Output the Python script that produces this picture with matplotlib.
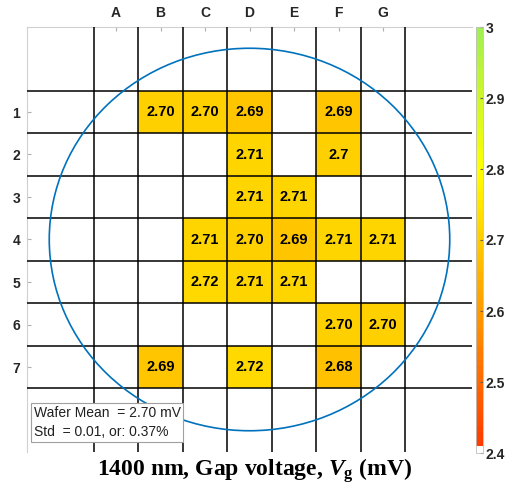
import numpy as np
import matplotlib.pyplot as plt
from matplotlib.colors import LinearSegmentedColormap, ListedColormap, Normalize
from matplotlib.patches import Circle

# die columns / rows and measured gap voltage (mV)
col_labels = ['A', 'B', 'C', 'D', 'E', 'F', 'G']
row_labels = ['1', '2', '3', '4', '5', '6', '7']
die_row = [1, 1, 1, 1, 2, 2, 3, 3, 4, 4, 4, 4, 4, 5, 5, 5, 6, 6, 7, 7, 7]
die_col = ['B', 'C', 'D', 'F', 'D', 'F', 'D', 'E', 'C', 'D', 'E', 'F', 'G',
           'C', 'D', 'E', 'F', 'G', 'B', 'D', 'F']
vg = [2.70, 2.70, 2.69, 2.69, 2.71, 2.70, 2.71, 2.71, 2.71, 2.70, 2.69, 2.71, 2.71,
      2.72, 2.71, 2.71, 2.70, 2.70, 2.69, 2.72, 2.68]
vg_text = ['2.70', '2.70', '2.69', '2.69', '2.71', '2.7', '2.71', '2.71', '2.71', '2.70',
           '2.69', '2.71', '2.71', '2.72', '2.71', '2.71', '2.70', '2.70', '2.69', '2.72', '2.68']
cbar_ticks = [2.4, 2.5, 2.6, 2.7, 2.8, 2.9, 3.0]
cbar_labels = ['2.4', '2.5', '2.6', '2.7', '2.8', '2.9', '3']
wafer_mean = 2.70
wafer_std = 0.01
wafer_pct = 0.37

plt.rcParams['font.family'] = ['Liberation Sans', 'DejaVu Sans']
plt.rcParams['mathtext.fontset'] = 'custom'
plt.rcParams['mathtext.it'] = 'Liberation Serif:italic:bold'
plt.rcParams['mathtext.bf'] = 'Liberation Serif:bold'
plt.rcParams['mathtext.rm'] = 'Liberation Serif:bold'

# red -> yellow -> green map, lowest level white
base = LinearSegmentedColormap.from_list(
    'rg', [(0.0, (1.0, 0.22, 0.0)), (0.667, (1.0, 1.0, 0.0)), (1.0, (0.63, 0.94, 0.32))])
cols = base(np.linspace(0, 1, 64))
cols[0] = (1, 1, 1, 1)
cmap = ListedColormap(cols)
norm = Normalize(2.4, 3.0)

# grid: columns/rows sit at 2..8 on a 0..10 axis
grid = np.full((10, 10), np.nan)
for r, c, v in zip(die_row, die_col, vg):
    grid[r + 1, col_labels.index(c) + 2] = v
edges = np.clip(np.arange(11) - 0.5, 0, 10)

fig = plt.figure(figsize=(5.08, 4.9), dpi=100)
ax = fig.add_axes([27/508, 1 - 452/490, 445/508, 425/490])
cax = fig.add_axes([476/508, 1 - 453/490, 7/508, 426/490])

mesh = ax.pcolormesh(edges, edges, np.ma.masked_invalid(grid), cmap=cmap, norm=norm)
for p in np.arange(1.5, 9.0, 1.0):
    ax.axvline(p, color='black', lw=1.1, zorder=3)
    ax.axhline(p, color='black', lw=1.1, zorder=3)

for r, c, t in zip(die_row, die_col, vg_text):
    ax.text(col_labels.index(c) + 2, r + 1, t, ha='center', va='center',
            fontsize=10.5, fontweight='bold', color='black', zorder=4)

ax.add_patch(Circle((5, 5), 4.5, fill=False, ec='#0072BD', lw=1.2, zorder=5))

ax.set_xlim(0, 10)
ax.set_ylim(10, 0)
ax.xaxis.tick_top()
ax.set_xticks(range(2, 9))
ax.set_xticklabels(col_labels)
ax.set_yticks(range(2, 9))
ax.set_yticklabels(row_labels)
ax.tick_params(direction='in', length=3, color='#b0b0b0', labelcolor='#262626',
               labelsize=10, pad=5)
for lab in ax.get_xticklabels() + ax.get_yticklabels():
    lab.set_fontweight('bold')
for s in ['right', 'bottom']:
    ax.spines[s].set_visible(False)
for s in ['top', 'left']:
    ax.spines[s].set_color('#d0d0d0')
    ax.spines[s].set_linewidth(0.8)

cb = fig.colorbar(mesh, cax=cax, ticks=cbar_ticks)
cb.ax.set_yticklabels(cbar_labels)
cb.outline.set_edgecolor('#c0c0c0')
cb.outline.set_linewidth(0.6)
cb.ax.tick_params(direction='in', length=2, color='#606060', labelcolor='#262626',
                  labelsize=10, pad=2)
for lab in cb.ax.get_yticklabels():
    lab.set_fontweight('bold')

ax.text(0.15, 9.7, 'Wafer Mean  = %.2f mV\nStd  = %.2f, or: %.2f%%' % (wafer_mean, wafer_std, wafer_pct),
        ha='left', va='bottom', fontsize=10, color='#202020', linespacing=1.5, zorder=6,
        bbox=dict(boxstyle='square,pad=0.2', fc='white', ec='#a0a0a0', lw=0.8))

fig.text(0.50, 1 - 471/490, r'1400 nm, Gap voltage, $\mathit{V}_{\mathbf{g}}$ (mV)',
         ha='center', va='center', fontsize=17, fontweight='bold',
         family=['Liberation Serif', 'DejaVu Serif'])

fig.savefig('out.png', dpi=100)
